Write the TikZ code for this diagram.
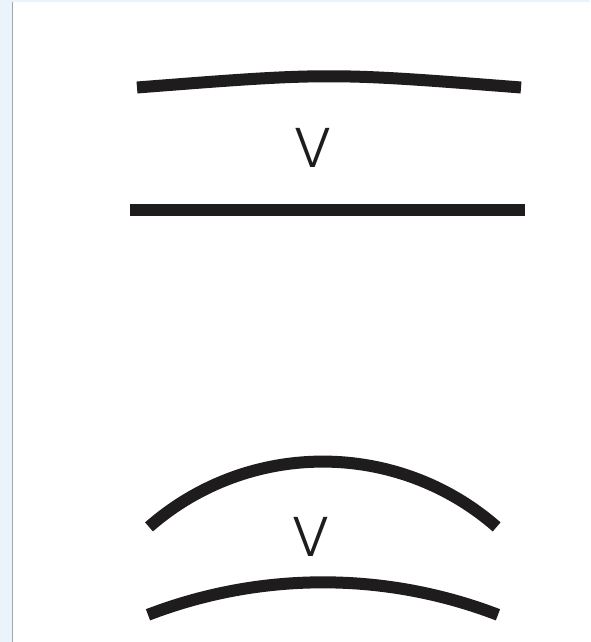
\documentclass[tikz,border=0pt]{standalone}
\usepackage{fontspec}
\newfontfamily\vfont[UprightFont={* Light}]{Poppins}
\definecolor{ink}{RGB}{30,28,29}
\definecolor{edgeblue}{RGB}{236,244,251}
\definecolor{edgegray}{RGB}{160,168,176}
\begin{document}
\begin{tikzpicture}[x=1pt,y=-1pt,
  plate/.style={line width=12pt, draw=ink, line cap=butt},
  lab/.style={font=\vfont\fontsize{56}{56}\selectfont, text=ink, inner sep=0pt, anchor=base}]
\useasboundingbox (0,0) rectangle (590,642);
\fill[white] (0,0) rectangle (590,642);
% page edge
\fill[edgeblue] (0,0) rectangle (12,642);
\fill[edgeblue] (12,0) rectangle (590,2);
\draw[edgegray, line width=1pt] (12.5,2) -- (12.5,642);
% upper pair: slightly curved over flat
\draw[plate] (137,87.5) .. controls (329,72.5) .. (521,87.5);
\draw[plate] (130,209.5) -- (525,209.5);
\node[lab] (v1) at (313,167) {V};
% lower pair: strongly curved over gently curved
\draw[plate] (149,526.9) arc[start angle=-131.2, end angle=-48.8, radius=263.9];
\draw[plate] (148,614.8) arc[start angle=-111.04, end angle=-68.96, radius=487.4];
\node[lab] (v2) at (311,556) {V};
\end{tikzpicture}
\end{document}
